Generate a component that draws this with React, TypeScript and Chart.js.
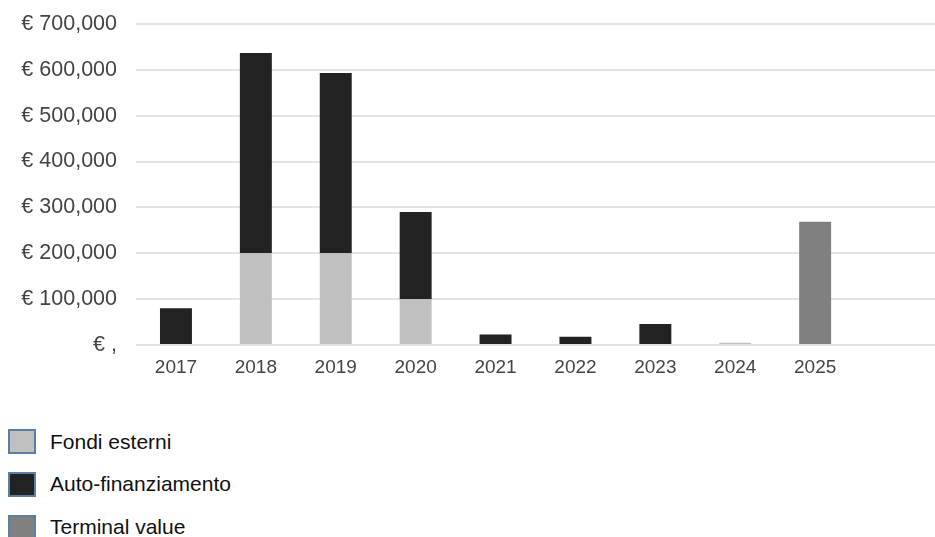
import React, { useEffect, useRef } from "react";
import { Chart, registerables } from "chart.js";

Chart.register(...registerables);

const categories = ["2017", "2018", "2019", "2020", "2021", "2022", "2023", "2024", "2025", ""];
const fondiEsterni = [null, 200000, 200000, 100000, null, null, null, 5000, null, null];
const autoFinanziamento = [80000, 437000, 393000, 190000, 23000, 18000, 46000, null, null, null];
const terminalValue = [null, null, null, null, null, null, null, null, 269000, null];
const seriesNames = ["Fondi esterni", "Auto-finanziamento", "Terminal value"];
const seriesColors = ["#c0c0c0", "#222222", "#808080"];
const yMax = 700000;
const yStep = 100000;

const FONT = "'Liberation Sans', Arial, sans-serif";

export default function App() {
  const ref = useRef<HTMLCanvasElement | null>(null);

  useEffect(() => {
    if (!ref.current) return;
    const seriesData = [fondiEsterni, autoFinanziamento, terminalValue];
    const chart = new Chart(ref.current, {
      type: "bar",
      data: {
        labels: categories,
        datasets: seriesNames.map((name, i) => ({
          label: name,
          data: seriesData[i] as any,
          backgroundColor: seriesColors[i],
          borderWidth: 0,
          barPercentage: 0.4,
          categoryPercentage: 1,
        })),
      },
      options: {
        animation: false,
        responsive: false,
        maintainAspectRatio: false,
        layout: { padding: 0 },
        plugins: {
          legend: { display: false },
          tooltip: { enabled: false },
        },
        scales: {
          x: {
            stacked: true,
            grid: { display: false, drawTicks: false },
            border: { display: false },
            ticks: {
              color: "#444",
              font: { family: FONT, size: 19 },
              padding: 11,
              maxRotation: 0,
              autoSkip: false,
            },
            afterFit: (scale: any) => {
              scale.height = 45;
            },
          },
          y: {
            stacked: true,
            min: 0,
            max: yMax,
            grid: { color: "#e4e4e4", lineWidth: 2, drawTicks: false },
            border: { display: false },
            ticks: {
              stepSize: yStep,
              color: "#444",
              font: { family: FONT, size: 21.5 },
              padding: 19,
              callback: (v: any) =>
                Number(v) === 0 ? "€ ," : "€ " + Number(v).toLocaleString("en-US"),
            },
            afterFit: (scale: any) => {
              scale.width = 136;
              scale.paddingTop = 24;
            },
          },
        },
      },
    });
    return () => chart.destroy();
  }, []);

  return (
    <div
      style={{
        position: "fixed",
        left: 0,
        top: 0,
        width: 935,
        height: 537,
        overflow: "hidden",
        background: "#fff",
        fontFamily: FONT,
      }}
    >
      <canvas
        ref={ref}
        width={935}
        height={390}
        style={{ position: "absolute", left: 0, top: 0, width: 935, height: 390 }}
      />
      {seriesNames.map((name, i) => (
        <div
          key={name}
          style={{
            position: "absolute",
            left: 8,
            top: 420 + i * 42.8,
            height: 43,
            display: "flex",
            alignItems: "center",
          }}
        >
          <div
            style={{
              width: 24,
              height: 21,
              background: seriesColors[i],
              border: "2px solid #5a7fa3",
            }}
          />
          <span style={{ marginLeft: 14, fontSize: 21, color: "#111" }}>{name}</span>
        </div>
      ))}
    </div>
  );
}
